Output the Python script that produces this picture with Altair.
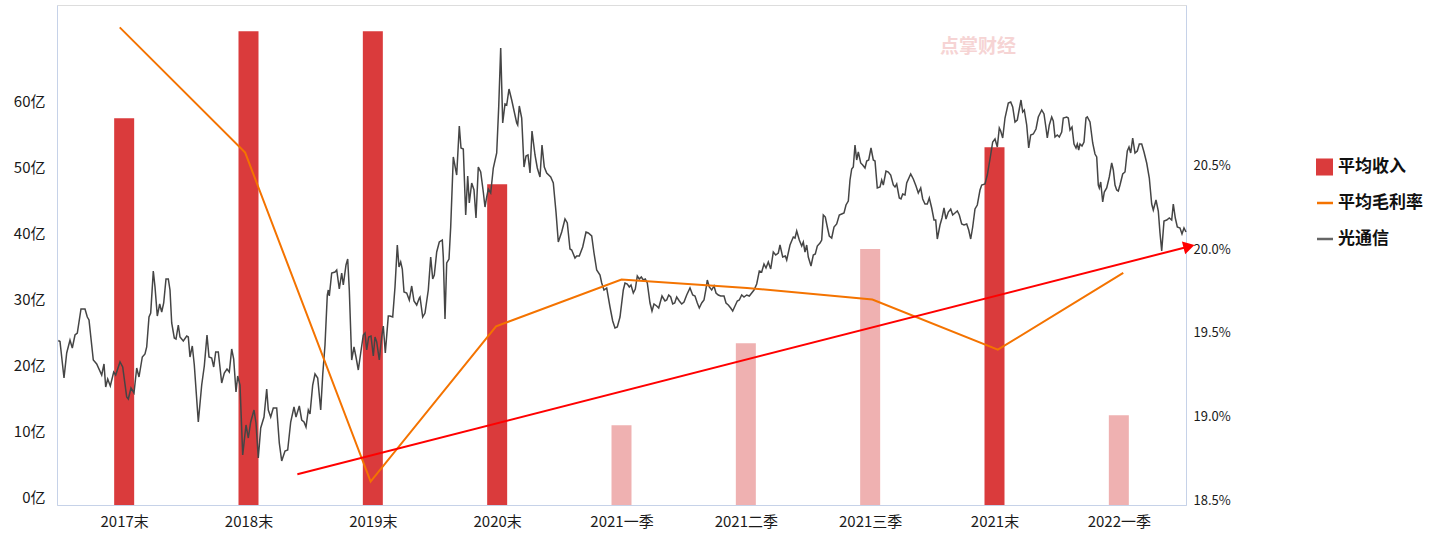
import altair as alt
import pandas as pd

# ---------------- data ----------------
categories = ["2017末", "2018末", "2019末", "2020末", "2021一季",
              "2021二季", "2021三季", "2021末", "2022一季"]
avg_revenue = [58.6, 71.8, 71.8, 48.6, 12.1, 24.5, 38.8, 54.2, 13.6]   # 亿
is_quarter = [False, False, False, False, True, True, True, False, True]
avg_margin = [21.36, 20.61, 18.64, 19.57, 19.85, 19.80, 19.73, 19.43, 19.89]  # %

# 光通信 index (trading-day position, index level)
gray_t = [1.3, 3, 7, 9.7, 13, 15.3, 18, 20.3, 24, 28, 30.3, 32, 36.3, 39.7, 44.7, 47, 48.7, 50.7, 53.3, 56.7,
          58.7, 63, 65.7, 69.7, 71.3, 74, 77, 79.7, 82, 85.3, 88, 89.7, 92, 93.7, 96.3, 98, 100.3, 102.7, 104.7,
          106.7, 109, 111.3, 113, 114.7, 117.3, 119, 121.3, 123, 126.3, 129.7, 131.3, 133, 135.3, 137.3, 141.3,
          144.7, 147.3, 150, 152, 154.7, 156.7, 158.7, 161.3, 164.7, 167.3, 170, 172.3, 174.7, 176.7, 179, 180.7,
          183, 185.7, 189, 191.3, 193.7, 197, 199, 201.3, 203.7, 207, 209.7, 211.3, 213.7, 216.3, 219.7, 222.3,
          224.7, 228, 230.7, 233.7, 237, 239, 242.3, 244.7, 247, 249, 251.3, 253, 255.7, 258, 260.7, 263.7, 265.7,
          268, 270.3, 271.3, 272.3, 274.7, 278, 279.7, 282.3, 284.7, 286.3, 289, 290.7, 292.3, 294.7, 297, 299,
          301.3, 303.7, 306.3, 308, 309.7, 311.7, 314, 316.3, 318, 319.7, 322.3, 324.7, 326.3, 328.3, 331.3, 333,
          335.7, 338, 340.3, 342, 343.7, 345.3, 347, 349.7, 352.3, 354.7, 357, 359.7, 362.3,
          363, 365.7, 368, 371.3, 373.7, 375.7, 377.3, 379.7, 382.3, 385.3, 386.3, 388, 389.7, 392, 393.7, 396.3,
          399.7, 402.3, 404, 406.3, 408.7, 410.7, 412.3, 414.7, 417, 419, 421.3, 423.7, 426.3, 428, 429.7, 431.3,
          433.7, 436.3, 439.7, 441.7, 443.7, 445.7, 448, 449.7, 452, 454.7, 457.3, 459.7, 460.7, 462.3, 464.7, 467,
          469, 471, 473, 475, 478, 480.3, 483, 485, 487.3, 489.7, 493.7, 496.3, 499, 501.3, 504.7, 508, 510.3, 513,
          514.7, 518, 519.7, 522.3, 525.7, 529, 531.3, 534.7, 537, 539.7, 543, 544.7, 547, 549.7, 553, 555.7, 558,
          560.3, 563,
          566.3, 568, 570.3, 572.3, 574, 576.3, 578.3, 580.3, 582.3, 584.3, 586.3, 588.3, 590.3, 593, 595, 597,
          599.7, 601.7, 605, 608, 609.7, 611.7, 613.7, 615.7, 617.7, 619.7, 622.3, 624.7, 627, 629.7, 633, 635.7,
          638, 640.3, 642.3, 644.7, 647, 649, 650.3, 652.3, 654.7, 657, 659, 661.3, 663.7, 667, 669, 671.3, 673.7,
          675.7, 678, 680.3, 682.3, 684.7, 687, 689.7, 692.3, 694.7, 697, 699.7, 702.3, 704.7, 707, 709, 711.3,
          713.7, 716.3, 718.7, 721.3, 723, 725.7, 728.3, 729.7,
          733, 736.3, 738, 739.7, 742.3, 744.7, 746.3, 748, 749.7, 751.3, 754, 756.3, 758.3, 760.3, 763, 764.7,
          766.3, 768.3, 770.3, 772.3, 774.7, 777, 779.7, 782.3, 784.7, 787, 789, 791.3, 793, 794.7, 796.3, 798,
          799.7, 801.3, 803.7, 805.7, 808, 809.7, 811.7, 814, 816.3, 818, 820.3, 823, 824.7, 826.3, 829, 831.3,
          833.7, 836.3, 838, 839.7, 842.3, 844, 845.7, 848, 849.7, 853.7, 856.3, 859, 861.3, 863.7, 865.7, 868,
          870.3, 872.3, 874.7, 877, 878.7, 880.3, 883, 885, 887, 889, 891.3, 893.7, 895.7, 898, 900.3, 902.3,
          904.7, 907, 909.7, 911.7, 913.7, 915.7, 918, 920.3,
          923, 924.7, 928, 930.3, 933, 935.7, 938, 940.3, 942.3, 943.7, 945.7, 948, 951.3, 953.7, 955.7, 958,
          960.3, 962.3, 964, 965.7, 967.3, 969.7, 971.7, 973.7, 976.3, 979, 981.3, 984.7, 987, 989, 990.3, 992.3,
          994.7, 996.3, 998, 1000.3, 1002.3, 1004.7, 1006.3, 1009.7, 1011.3, 1013, 1015, 1017, 1019, 1020.3,
          1021.7, 1023, 1025, 1027, 1029, 1030.3, 1033, 1035.7, 1038, 1039.7, 1041.3, 1042.3, 1043.7, 1045.7,
          1047.3, 1049.7, 1052.3, 1054.7, 1056.3, 1058, 1059.7, 1061.3, 1063, 1065.7, 1068, 1070.3, 1072, 1073.7,
          1075.7, 1078, 1080.3, 1082.3, 1084.7, 1087, 1089.7, 1092.3, 1094.7, 1096.3, 1099, 1101.3, 1103, 1104.7,
          1107, 1109.7, 1112.3, 1114.7, 1116.3, 1118.3, 1120.3, 1123, 1125, 1127, 1129]
gray_v = [329, 327, 254, 304, 330, 314, 340, 344, 392, 392, 376, 370, 290, 282, 260, 282, 236, 252, 238, 266,
          260, 286, 276, 216, 212, 234, 224, 274, 256, 296, 302, 316, 376, 384, 468, 436, 378, 402, 386,
          404, 452, 452, 430, 364, 334, 332, 360, 336, 328, 338, 336, 296, 318, 280, 166,
          240, 278, 340, 296, 294, 276, 306, 306, 244, 264, 272, 266, 312, 292, 226, 258,
          240, 100, 160, 134, 166, 190, 164, 94, 154, 176, 232, 190, 176, 194, 194, 124,
          88, 108, 110, 166, 196, 176, 198, 170, 166, 156, 190, 182, 240, 262, 254, 190, 260,
          320, 420, 430, 418, 464, 466, 470, 432, 464, 440, 480, 492, 430, 290, 316, 296,
          270, 304, 340, 344, 310, 336, 338, 298, 336, 326, 290, 336, 358, 304, 378, 378,
          376, 436, 520, 476, 486, 472, 426, 424, 410, 438, 408, 400, 414,
          416, 376, 384, 430, 496, 452, 460, 506, 526, 530, 496, 372, 484, 492, 556, 696,
          660, 758, 714, 712, 580, 658, 604, 644, 630, 574, 676, 666, 626, 596, 616, 632,
          624, 674, 704, 796, 914, 764, 802, 800, 832, 810, 786, 764, 760, 798, 774, 676,
          698, 700, 664, 748, 700, 674, 656, 720, 676, 664, 656, 644, 586, 526, 546, 572, 564, 512,
          510, 494, 498, 498, 516, 546, 544, 538, 504, 470, 460, 444, 430, 434, 396, 368, 354,
          356, 376,
          430, 444, 442, 436, 440, 424, 432, 458, 452, 456, 450, 452, 444, 404, 388, 402,
          398, 394, 418, 408, 410, 420, 416, 402, 404, 416, 408, 402, 406, 420, 434, 420,
          418, 404, 394, 404, 410, 432, 450, 436, 430, 438, 424, 420, 418, 418, 404, 400, 394,
          388, 398, 408, 410, 420, 416, 420, 418, 424, 430, 442, 468, 466, 482, 474, 486,
          472, 506, 500, 504, 520, 496, 498, 490,
          520, 536, 534, 548, 530, 518, 526, 506, 520, 496, 478, 500, 502, 518, 524, 530,
          580, 576, 556, 538, 534, 556, 562, 580, 582, 584, 600, 608, 650, 672, 676, 720,
          690, 706, 684, 680, 674, 688, 690, 714, 690, 688, 634, 636, 650, 640, 668, 666,
          660, 640, 636, 642, 614, 612, 622, 620, 644, 662, 652, 638, 624, 634, 612, 602,
          602, 614, 594, 570, 570, 532, 560, 574, 594, 572, 586, 592, 580, 584, 588, 580,
          562, 560, 562, 550, 532, 556, 592, 600,
          630, 640, 642, 660, 692, 726, 732, 716, 754, 748, 734, 774, 804, 806, 796, 766,
          770, 792, 810, 786, 790, 760, 714, 740, 742, 752, 776, 790, 782, 754, 734, 760,
          776, 768, 736, 740, 736, 746, 774, 776, 774, 750, 756, 722, 714, 722,
          710, 722, 718, 726, 774, 776, 766, 724, 702, 696, 640, 634, 646, 606,
          626, 634, 656, 684, 670, 640, 630, 628, 640, 662, 666, 708, 716, 704,
          734, 704, 708, 722, 722, 706, 684, 654, 602, 590, 610, 588, 544, 508,
          568, 570, 574, 570, 602, 574, 556, 554, 542, 554, 546]

trend_x = [1.416, 8.524]
trend_y = [18.684, 20.048]

legend_names = ["平均收入", "平均毛利率", "光通信"]
watermark = "点掌财经"

# ---------------- style ----------------
W, H = 1129, 500
AXIS_COLOR = "#c6d2e8"
FONT = "Noto Sans CJK SC"
DARK_RED = "#da3b3c"
LIGHT_RED = "#efb1b1"
ORANGE = "#f47300"
GRAY = "#454545"

bar_df = pd.DataFrame({
    "idx": list(range(len(categories))),
    "cat": categories,
    "rev": avg_revenue,
    "color": [LIGHT_RED if q else DARK_RED for q in is_quarter],
})
margin_df = pd.DataFrame({"idx": list(range(len(categories))), "m": avg_margin})
gray_df = pd.DataFrame({"t": gray_t, "v": gray_v})
trend_df = pd.DataFrame({"x": trend_x, "y": trend_y})
head_df = trend_df.tail(1)

XDOM = [-0.5, len(categories) - 0.5]
label_js = "[" + ",".join("'" + c + "'" for c in categories) + "][datum.value]"

x_axis = alt.Axis(values=list(range(len(categories))), labelExpr=label_js, ticks=False,
                  grid=False, title=None, domainColor=AXIS_COLOR, labelFontSize=15,
                  labelColor="#1a1a1a", labelPadding=9, labelFont=FONT)

bars = alt.Chart(bar_df).mark_bar(width=20).encode(
    x=alt.X("idx:Q", scale=alt.Scale(domain=XDOM, nice=False, zero=False), axis=x_axis),
    y=alt.Y("rev:Q", scale=alt.Scale(domain=[0, 75.76], nice=False),
            axis=alt.Axis(values=[0, 10, 20, 30, 40, 50, 60], labelExpr="datum.value + '亿'",
                          ticks=False, grid=False, title=None, domainColor=AXIS_COLOR,
                          labelFontSize=15, labelColor="#1a1a1a", labelPadding=12,
                          labelOffset=-8, labelFont=FONT, orient="left")),
    color=alt.Color("color:N", scale=None),
)

gray = alt.Chart(gray_df).mark_line(color=GRAY, strokeWidth=1.5).encode(
    x=alt.X("t:Q", scale=alt.Scale(domain=[0, W], nice=False, zero=False), axis=None),
    y=alt.Y("v:Q", scale=alt.Scale(domain=[0, 1000], nice=False), axis=None),
)

margin = alt.Chart(margin_df).mark_line(color=ORANGE, strokeWidth=2).encode(
    x=alt.X("idx:Q", scale=alt.Scale(domain=XDOM, nice=False, zero=False), axis=None),
    y=alt.Y("m:Q", scale=alt.Scale(domain=[18.5, 21.494], nice=False, zero=False),
            axis=alt.Axis(values=[18.5, 19.0, 19.5, 20.0, 20.5],
                          labelExpr="format(datum.value, '.1f') + '%'",
                          ticks=False, grid=False, title=None, domainColor=AXIS_COLOR,
                          labelFontSize=13, labelColor="#1a1a1a", labelPadding=7,
                          labelOffset=-5, labelFont=FONT, orient="right")),
)

tscale_x = alt.Scale(domain=XDOM, nice=False, zero=False)
tscale_y = alt.Scale(domain=[18.5, 21.494], nice=False, zero=False)
trend = alt.Chart(trend_df).mark_line(color="#ff0000", strokeWidth=2).encode(
    x=alt.X("x:Q", scale=tscale_x, axis=None),
    y=alt.Y("y:Q", scale=tscale_y, axis=None),
)
head = alt.Chart(head_df).mark_point(shape="triangle-right", filled=True, size=170,
                                      angle=345.5, color="#ff0000", opacity=1).encode(
    x=alt.X("x:Q", scale=tscale_x, axis=None),
    y=alt.Y("y:Q", scale=tscale_y, axis=None),
)

# watermark
wm = alt.Chart(pd.DataFrame({"t": [watermark]})).mark_text(
    font=FONT, fontSize=19, fontWeight="bold", color="#f6d4d4", align="center", baseline="middle"
).encode(text="t:N", x=alt.value(921), y=alt.value(42))

# legend (drawn manually in the right margin)
leg_df = pd.DataFrame({"name": legend_names, "ly": [162, 198, 234]})
leg_text = alt.Chart(leg_df).mark_text(
    font=FONT, fontSize=17, fontWeight="bold", color="#111111", align="left", baseline="middle"
).encode(text="name:N", x=alt.value(1281), y=alt.Y("ly:Q", scale=None))
leg_sq = alt.Chart(leg_df.head(1)).mark_square(size=290, color=DARK_RED, opacity=1, filled=True).encode(
    x=alt.value(1267.5), y=alt.Y("ly:Q", scale=None))
leg_or = alt.Chart(leg_df.iloc[[1]]).mark_rule(color=ORANGE, strokeWidth=2.5).encode(
    x=alt.value(1260), x2=alt.value(1276), y=alt.Y("ly:Q", scale=None))
leg_gr = alt.Chart(leg_df.iloc[[2]]).mark_rule(color="#666666", strokeWidth=2.5).encode(
    x=alt.value(1260), x2=alt.value(1276), y=alt.Y("ly:Q", scale=None))

chart = alt.layer(
    bars, gray, margin, trend, head, wm, leg_sq, leg_or, leg_gr, leg_text
).resolve_scale(
    x="independent", y="independent"
).properties(
    width=W, height=H,
    padding={"left": 57, "top": 5, "right": 259, "bottom": 44},
    autosize=alt.AutoSizeParams(type="none"),
    background="white",
).configure_view(stroke=None).configure(font=FONT)

chart.save("out.html", embed_options={"renderer": "svg", "actions": False})
